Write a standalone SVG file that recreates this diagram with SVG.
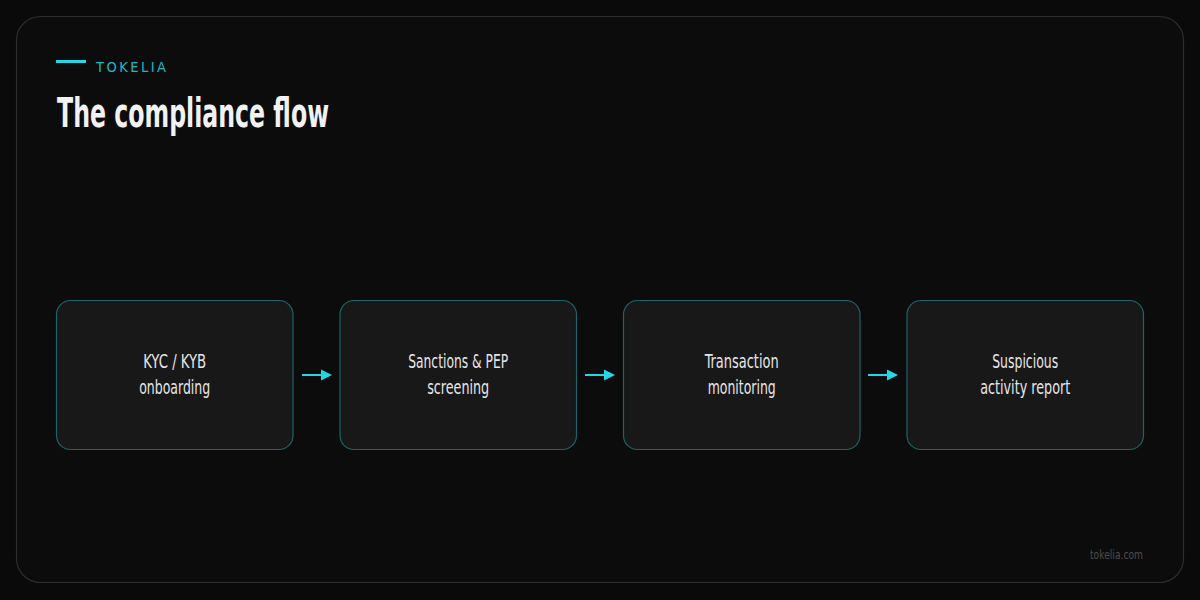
<svg xmlns="http://www.w3.org/2000/svg" width="1200" height="600" viewBox="0 0 1200 600">
<style>
.node rect{fill:#181818;stroke:#1d6468;stroke-width:1.2}
.lbl{font-family:"Liberation Sans Narrow","DejaVu Sans Condensed","Liberation Sans",sans-serif;font-size:19px;fill:#e6e6e6;text-anchor:middle}
.conn line{stroke:#22d8e6;stroke-width:2}
.conn path{fill:#22d8e6}
</style>
<rect width="1200" height="600" fill="#0a0a0a"/>
<rect x="16.5" y="16.5" width="1167" height="566" rx="24" fill="#0c0c0c" stroke="#2e2e2e" stroke-width="1.2"/>
<line x1="56" y1="61.5" x2="86" y2="61.5" stroke="#22d8e6" stroke-width="3"/>
<text x="96" y="72" font-family="Liberation Sans Narrow,DejaVu Sans Condensed,sans-serif" font-size="14.5" fill="#1fb8c4" textLength="70" lengthAdjust="spacing">TOKELIA</text>
<text x="57" y="127" font-family="Liberation Sans Narrow,DejaVu Sans Condensed,sans-serif" font-weight="bold" font-size="40" fill="#f2f2f2" textLength="272" lengthAdjust="spacingAndGlyphs">The compliance flow</text>
<g id="n1" class="node"><rect x="56.5" y="300.5" width="236.5" height="149" rx="14"/>
<text class="lbl" x="174.7" y="368" textLength="63" lengthAdjust="spacingAndGlyphs">KYC / KYB</text>
<text class="lbl" x="174.7" y="394" textLength="71" lengthAdjust="spacingAndGlyphs">onboarding</text></g>
<g id="n2" class="node"><rect x="340" y="300.5" width="236.5" height="149" rx="14"/>
<text class="lbl" x="458.2" y="368" textLength="100" lengthAdjust="spacingAndGlyphs">Sanctions &amp; PEP</text>
<text class="lbl" x="458.2" y="394" textLength="62" lengthAdjust="spacingAndGlyphs">screening</text></g>
<g id="n3" class="node"><rect x="623.5" y="300.5" width="236.5" height="149" rx="14"/>
<text class="lbl" x="741.7" y="368" textLength="74" lengthAdjust="spacingAndGlyphs">Transaction</text>
<text class="lbl" x="741.7" y="394" textLength="68" lengthAdjust="spacingAndGlyphs">monitoring</text></g>
<g id="n4" class="node"><rect x="907" y="300.5" width="236.5" height="149" rx="14"/>
<text class="lbl" x="1025.2" y="368" textLength="66" lengthAdjust="spacingAndGlyphs">Suspicious</text>
<text class="lbl" x="1025.2" y="394" textLength="90" lengthAdjust="spacingAndGlyphs">activity report</text></g>
<g id="connectors" class="conn">
<line x1="302" y1="375" x2="323" y2="375"/><path d="M321,369.5 L332,375 L321,380.5 Z"/>
<line x1="585" y1="375" x2="606" y2="375"/><path d="M604,369.5 L615,375 L604,380.5 Z"/>
<line x1="868" y1="375" x2="889" y2="375"/><path d="M887,369.5 L898,375 L887,380.5 Z"/>
</g>
<text x="1143" y="559" font-family="Liberation Sans Narrow,DejaVu Sans Condensed,sans-serif" font-size="13" fill="#4c4c4c" text-anchor="end" textLength="53" lengthAdjust="spacingAndGlyphs">tokelia.com</text>
</svg>
